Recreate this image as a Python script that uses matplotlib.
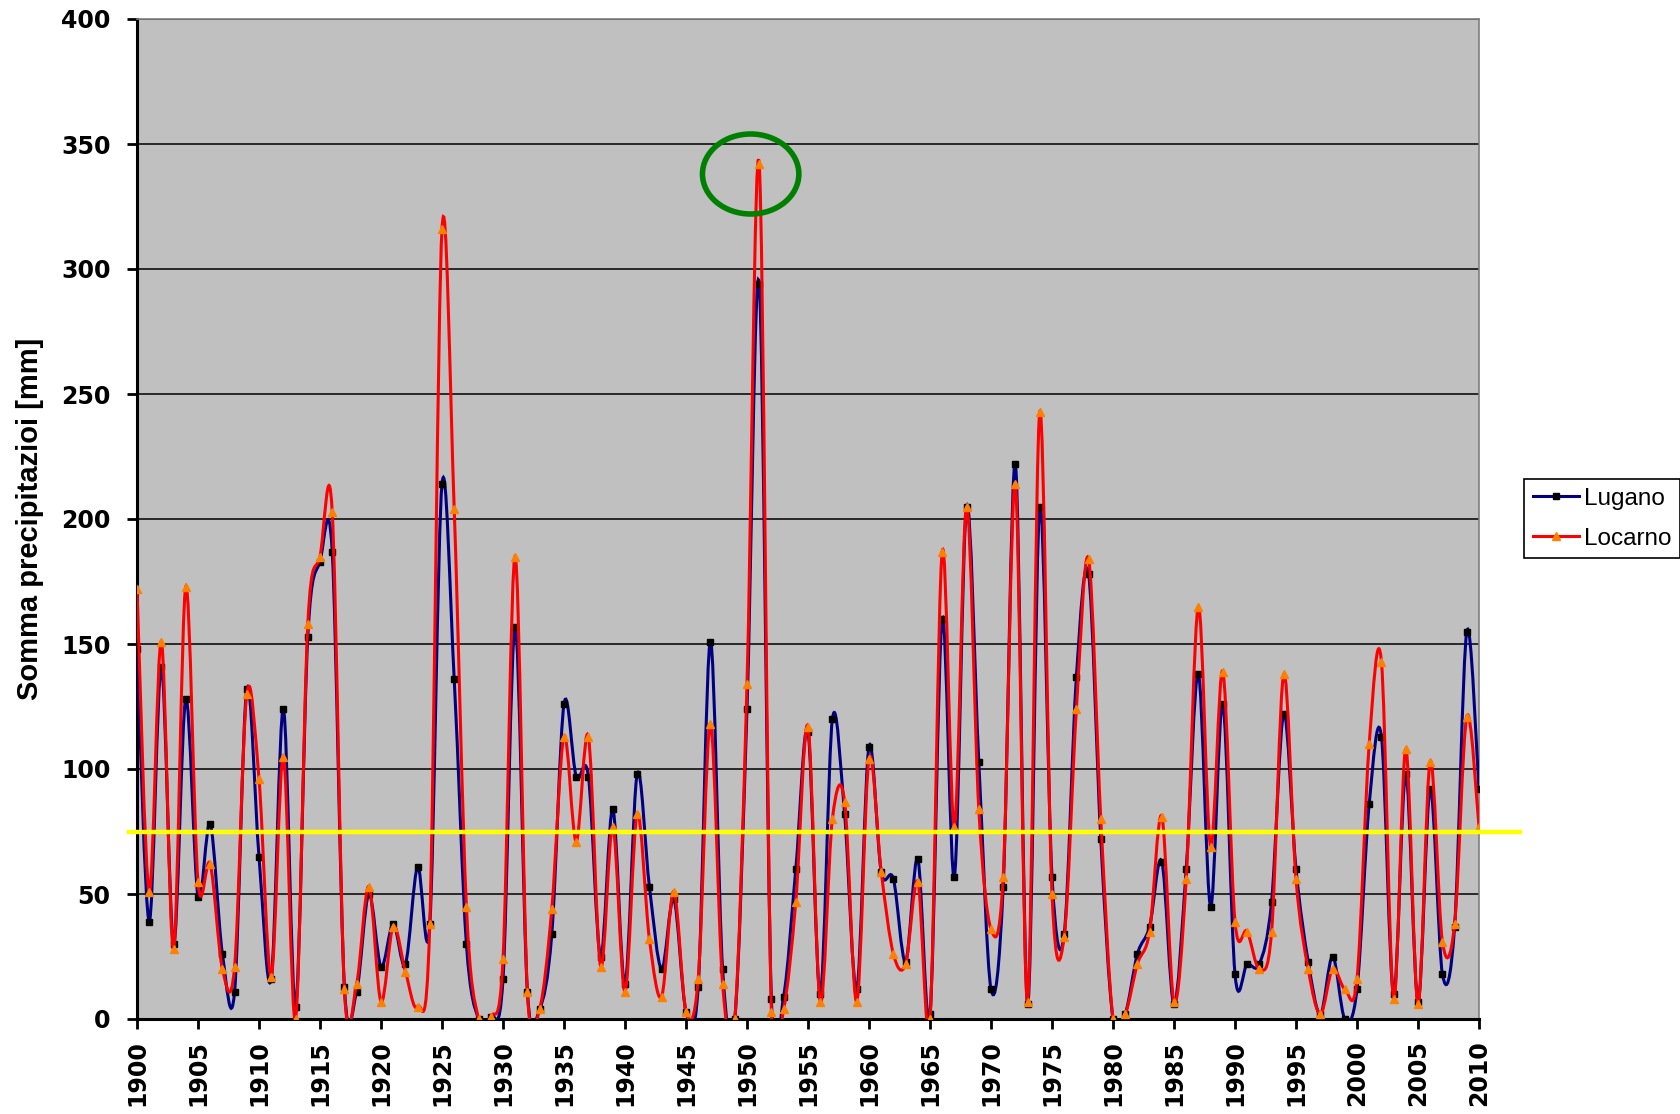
import numpy as np
import matplotlib
matplotlib.use('Agg')
import matplotlib.pyplot as plt
from matplotlib.path import Path
from matplotlib.patches import PathPatch, Ellipse
from matplotlib.lines import Line2D

plt.rcParams['font.family'] = ['Liberation Sans', 'DejaVu Sans']

# dati (somma precipitazioni, mm)
anni = list(range(1900, 2011))
lugano = [148, 39, 141, 30, 128, 49, 78, 26, 11, 132,
          65, 16, 124, 5, 153, 183, 187, 13, 11, 50,
          21, 38, 22, 61, 38, 214, 136, 30, 0, 1,
          16, 157, 11, 4, 34, 126, 97, 97, 25, 84,
          14, 98, 53, 20, 48, 3, 13, 151, 20, 0,
          124, 294, 8, 9, 60, 115, 10, 120, 82, 12,
          109, 59, 56, 23, 64, 2, 160, 57, 205, 103,
          12, 53, 222, 6, 205, 57, 34, 137, 178, 72,
          0, 2, 26, 37, 63, 6, 60, 138, 45, 126,
          18, 22, 22, 47, 122, 60, 23, 2, 25, 0,
          12, 86, 113, 10, 98, 7, 92, 18, 37, 155,
          92]
locarno = [172, 51, 151, 28, 173, 55, 62, 20, 21, 130,
           96, 17, 105, 0, 158, 185, 203, 12, 14, 53,
           7, 37, 19, 5, 38, 316, 204, 45, 0, 1,
           24, 185, 11, 4, 44, 113, 71, 113, 21, 77,
           11, 82, 32, 9, 51, 3, 16, 118, 14, 0,
           134, 342, 3, 4, 47, 117, 7, 80, 87, 7,
           104, 59, 26, 22, 55, 0, 187, 77, 205, 84,
           36, 57, 214, 7, 243, 50, 33, 124, 184, 80,
           0, 2, 22, 35, 81, 7, 56, 165, 69, 139,
           39, 35, 20, 35, 138, 56, 20, 2, 20, 12,
           16, 110, 143, 8, 108, 6, 103, 31, 38, 121,
           77]
soglia = 75
anno_record = 1950.3
valore_record = 338


def curva_smussata(x, y):
    # linea smussata tipo Excel (Bezier cubiche)
    p = np.column_stack([np.asarray(x, float), np.asarray(y, float)])
    n = len(p)
    verts = [p[0]]
    codes = [Path.MOVETO]
    for i in range(n - 1):
        p0 = p[i - 1] if i > 0 else p[i]
        p1 = p[i]
        p2 = p[i + 1]
        p3 = p[i + 2] if i + 2 < n else p[i + 1]
        verts += [p1 + (p2 - p0) / 6, p2 - (p3 - p1) / 6, p2]
        codes += [Path.CURVE4] * 3
    return Path(verts, codes)


fig = plt.figure(figsize=(16.8, 11.14), dpi=100)
ax = fig.add_axes([137 / 1680, 1 - 1019 / 1114, (1479 - 137) / 1680, (1019 - 19) / 1114])
ax.set_facecolor('#C0C0C0')

ax.set_xlim(1900, 2010)
ax.set_ylim(0, 400)
ax.set_yticks(range(0, 401, 50))
ax.set_xticks(range(1900, 2011, 5))
ax.yaxis.grid(True, color='black', linewidth=1.1)
ax.set_axisbelow(True)

# Lugano
ax.add_patch(PathPatch(curva_smussata(anni, lugano), facecolor='none',
                       edgecolor='#000080', linewidth=2.2, zorder=3))
ax.plot(anni, lugano, linestyle='none', marker='s', markersize=4.5,
        color='black', zorder=4)

# Locarno
ax.add_patch(PathPatch(curva_smussata(anni, locarno), facecolor='none',
                       edgecolor='#FF0000', linewidth=2.2, zorder=5))
ax.plot(anni, locarno, linestyle='none', marker='^', markersize=5.5,
        color='#FF8000', zorder=6)

# soglia gialla
ax.plot([1899.35, 2013.4], [soglia, soglia], color='#FFFF00', linewidth=3.2,
        clip_on=False, zorder=7)

# cerchio verde sul massimo
ax.add_patch(Ellipse((anno_record, valore_record), 7.9, 32, facecolor='none',
                     edgecolor='#008000', linewidth=4, zorder=8))

for s in ['left', 'bottom']:
    ax.spines[s].set_linewidth(2.2)
    ax.spines[s].set_color('black')
for s in ['top', 'right']:
    ax.spines[s].set_linewidth(1.2)
    ax.spines[s].set_color('#808080')

ax.tick_params(axis='both', direction='out', length=7, width=2)
ax.tick_params(axis='y', pad=12)
ax.tick_params(axis='x', labelrotation=90, pad=8)
for lab in ax.get_xticklabels() + ax.get_yticklabels():
    lab.set_fontweight('bold')
    lab.set_fontfamily('DejaVu Sans')
    lab.set_fontsize(17)

ax.set_ylabel('Somma precipitazioi [mm]', fontsize=21, fontweight='bold')
ax.yaxis.set_label_coords(-0.069, 0.5)

maniglie = [Line2D([], [], color='#000080', linewidth=2.2, marker='s', markersize=4.5,
                   markerfacecolor='black', markeredgecolor='black'),
            Line2D([], [], color='#FF0000', linewidth=2.2, marker='^', markersize=5.5,
                   markerfacecolor='#FF8000', markeredgecolor='#FF8000')]
leg = fig.legend(maniglie, ['Lugano', 'Locarno'], loc='upper left',
                 bbox_to_anchor=(1524 / 1680, 1 - 479 / 1114), borderaxespad=0,
                 fontsize=17.5, fancybox=False, edgecolor='black', framealpha=1,
                 handlelength=1.9, handletextpad=0.2, borderpad=0.35,
                 labelspacing=0.75)
leg.get_frame().set_linewidth(1.2)

fig.savefig('out.png', dpi=100)
